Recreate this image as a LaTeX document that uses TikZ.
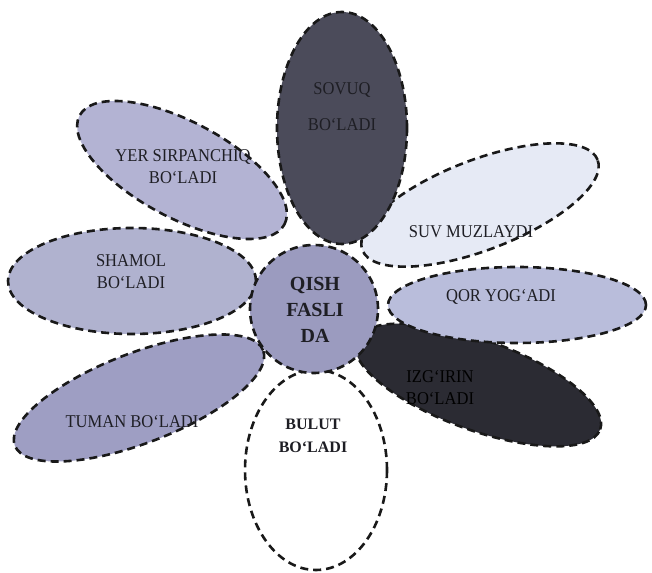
\documentclass[tikz,border=0pt]{standalone}
\usepackage{fontspec}
\setmainfont{Liberation Serif}
\newfontfamily\condserif[FakeStretch=0.92]{Liberation Serif}
\definecolor{cSovuq}{HTML}{4B4B5A}
\definecolor{cYer}{HTML}{B3B3D3}
\definecolor{cSuv}{HTML}{E6EAF5}
\definecolor{cQor}{HTML}{B9BDDB}
\definecolor{cShamol}{HTML}{B0B2CF}
\definecolor{cCenter}{HTML}{9B9BBF}
\definecolor{cTuman}{HTML}{9E9EC3}
\definecolor{cIzg}{HTML}{2B2B33}
\definecolor{cText}{HTML}{1E1E24}
\tikzset{
  petal/.style={draw=black!90, line width=2.6pt, dash pattern=on 8pt off 5pt},
  lbl/.style={align=center, text=cText, font=\condserif\fontsize{18}{22}\selectfont, inner sep=0pt},
  lblbold/.style={align=center, text=cText, font=\bfseries\fontsize{20}{26}\selectfont, inner sep=0pt},
}
\begin{document}
\begin{tikzpicture}[x=1pt,y=1pt]
\useasboundingbox (0,0) rectangle (652,572);
% petals
\path[petal, fill=white] (316,102) ellipse [x radius=71, y radius=100];
\path[petal, fill=cIzg, rotate around={-20:(478,187)}] (478,187) ellipse [x radius=130, y radius=45];
\path[petal, fill=cQor] (517,267) ellipse [x radius=129, y radius=38];
\path[petal, fill=cSuv, rotate around={21:(480,367)}] (480,367) ellipse [x radius=126, y radius=45];
\path[petal, fill=cTuman, rotate around={21:(139,174)}] (139,174) ellipse [x radius=133, y radius=45];
\path[petal, fill=cShamol] (132,291) ellipse [x radius=124, y radius=53];
\path[petal, fill=cYer, rotate around={-28:(182,402)}] (182,402) ellipse [x radius=116, y radius=48];
\path[petal, fill=cSovuq] (342,444) ellipse [x radius=65, y radius=116];
\path[petal, fill=cCenter] (314,263) circle [radius=64];
% labels
\node[lbl] (sovuq) at (342,482) {SOVUQ};
\node[lbl] (sovuqb) at (342,447) {BO‘LADI};
\node[lbl] (yer) at (183,405) {YER SIRPANCHIQ\\BO‘LADI};
\node[lbl] (suv) at (471,340) {SUV MUZLAYDI};
\node[lbl] (qor) at (501,275) {QOR YOG‘ADI};
\node[lbl] (shamol) at (131,300) {SHAMOL\\BO‘LADI};
\node[lblbold] (center) at (315,262) {QISH\\FASLI\\DA};
\node[lbl, text=black] (izg) at (440,184) {IZG‘IRIN\\BO‘LADI};
\node[lbl] (tuman) at (132,150) {TUMAN BO‘LADI};
\node[align=center, text=cText, font=\bfseries\fontsize{16}{23}\selectfont, inner sep=0pt] (bulut) at (313,136) {BULUT\\BO‘LADI};
\end{tikzpicture}
\end{document}
